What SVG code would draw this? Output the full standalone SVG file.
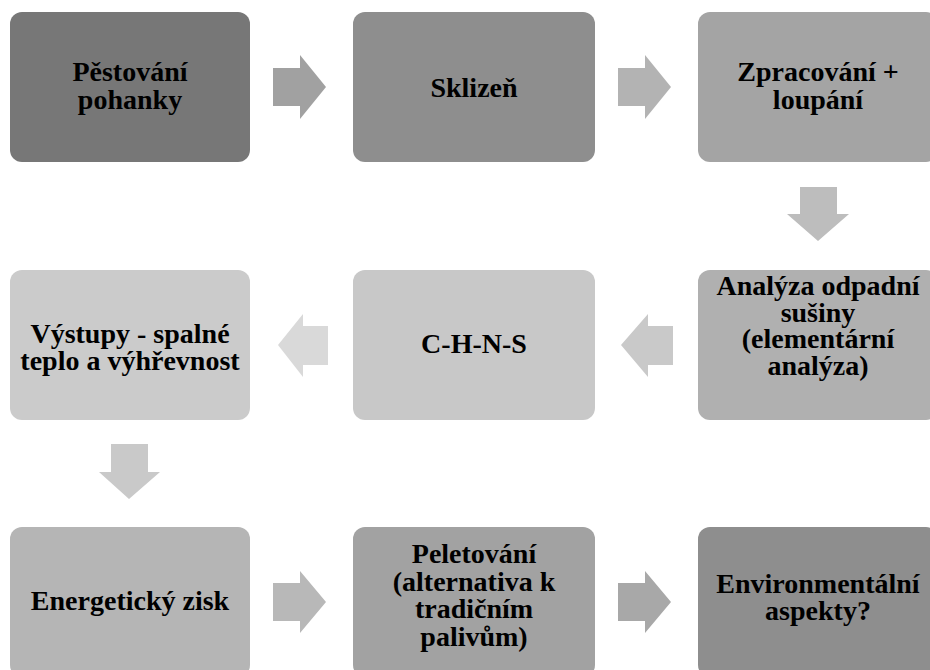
<svg xmlns="http://www.w3.org/2000/svg" width="930" height="670" viewBox="0 0 930 670">
<style>
.box{stroke:none}
.lbl{font-weight:bold;font-size:28px;fill:#000;text-anchor:middle}
</style>
<rect x="0" y="0" width="930" height="670" fill="#ffffff"/>
<g id="connectors">
<polygon points="273,68 300,68 300,55 326,87 300,119 300,106 273,106" fill="#a1a1a1"/>
<polygon points="618,68 645,68 645,55 671,87 645,119 645,106 618,106" fill="#b3b3b3"/>
<polygon points="800,187 837,187 837,214 849,214 818,241 787,214 800,214" fill="#bdbdbd"/>
<polygon points="673,326 648,326 648,314 621,345 648,377 648,365 673,365" fill="#c9c9c9"/>
<polygon points="328,326 303,326 303,314 278,345 303,377 303,365 328,365" fill="#d9d9d9"/>
<polygon points="111,444 148,444 148,472 160,472 129,499 99,472 111,472" fill="#c9c9c9"/>
<polygon points="273,583 300,583 300,571 326,602 300,633 300,621 273,621" fill="#b8b8b8"/>
<polygon points="618,583 645,583 645,571 671,602 645,633 645,621 618,621" fill="#a8a8a8"/>
</g>
<g font-family="Liberation Serif, Times New Roman, serif">
<g id="n1"><rect class="box" x="10" y="12" width="240" height="150" rx="12" fill="#777777"/>
<text class="lbl" x="130" y="81">Pěstování</text><text class="lbl" x="130" y="109">pohanky</text></g>
<g id="n2"><rect class="box" x="353" y="12" width="242" height="150" rx="12" fill="#8e8e8e"/>
<text class="lbl" x="474" y="97">Sklizeň</text></g>
<g id="n3"><rect class="box" x="698" y="12" width="240" height="150" rx="12" fill="#a4a4a4"/>
<text class="lbl" x="818" y="81">Zpracování +</text><text class="lbl" x="818" y="109">loupání</text></g>
<g id="n4"><rect class="box" x="698" y="270" width="240" height="150" rx="12" fill="#b0b0b0"/>
<text class="lbl" x="818" y="295">Analýza odpadní</text><text class="lbl" x="818" y="322">sušiny</text><text class="lbl" x="818" y="348">(elementární</text><text class="lbl" x="818" y="375">analýza)</text></g>
<g id="n5"><rect class="box" x="353" y="270" width="242" height="150" rx="12" fill="#c8c8c8"/>
<text class="lbl" x="474" y="353">C-H-N-S</text></g>
<g id="n6"><rect class="box" x="10" y="270" width="240" height="150" rx="12" fill="#cbcbcb"/>
<text class="lbl" x="130" y="343">Výstupy - spalné</text><text class="lbl" x="130" y="370">teplo a výhřevnost</text></g>
<g id="n7"><rect class="box" x="10" y="527" width="240" height="150" rx="12" fill="#b5b5b5"/>
<text class="lbl" x="130" y="610">Energetický zisk</text></g>
<g id="n8"><rect class="box" x="353" y="527" width="242" height="150" rx="12" fill="#a2a2a2"/>
<text class="lbl" x="474" y="563">Peletování</text><text class="lbl" x="474" y="591">(alternativa k</text><text class="lbl" x="474" y="618">tradičním</text><text class="lbl" x="474" y="646">palivům)</text></g>
<g id="n9"><rect class="box" x="698" y="527" width="240" height="150" rx="12" fill="#8e8e8e"/>
<text class="lbl" x="818" y="593">Environmentální</text><text class="lbl" x="818" y="620">aspekty?</text></g>
</g>
</svg>
